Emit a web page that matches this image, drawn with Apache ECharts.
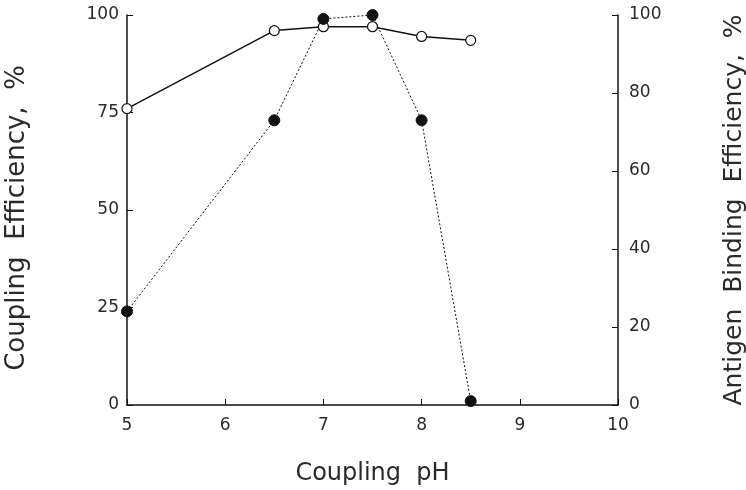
<!DOCTYPE html>
<html lang="en">
<head>
    <meta charset="UTF-8">
    <script src="https://cdn.jsdelivr.net/npm/echarts@6/dist/echarts.min.js"></script>
    <title>Coupling pH</title>
</head>
<body style="margin:0">
<div id="chart" style="width: 746px;height: 490px"></div>
<script type="text/javascript">
    // coupling pH values
    var ph = [5, 6.5, 7, 7.5, 8, 8.5];
    // open circles, solid line (left axis)
    var coupling = [76, 96, 97, 97, 94.5, 93.5];
    // filled circles, dotted line (right axis)
    var binding = [24, 73, 99, 100, 73, 1];

    var ink = '#111';
    var textInk = '#2a2a2a';
    var font = 'DejaVu Sans, sans-serif';

    function pairs(xs, ys) {
        return xs.map(function (x, i) { return [x, ys[i]]; });
    }

    var chart = echarts.init(document.getElementById('chart'));
    chart.setOption({
        animation: false,
        grid: {left: 127, right: 128, top: 15, bottom: 85, containLabel: false, outerBoundsMode: 'none'},
        xAxis: {
            type: 'value', min: 5, max: 10, interval: 1,
            name: 'Coupling  pH', nameLocation: 'middle', nameGap: 57,
            nameTextStyle: {fontSize: 24, color: textInk, fontFamily: font},
            axisLine: {lineStyle: {color: ink, width: 1.5}},
            axisTick: {inside: true, length: 6, lineStyle: {color: ink}},
            axisLabel: {fontSize: 17, color: textInk, fontFamily: font, margin: 12},
            splitLine: {show: false}
        },
        yAxis: [
            {
                type: 'value', min: 0, max: 100, interval: 25, position: 'left',
                name: 'Coupling  Efficiency,  %', nameLocation: 'middle', nameRotate: 90, nameGap: 97,
                nameTextStyle: {fontSize: 26, color: textInk, fontFamily: font, padding: [0, 16, 0, 0]},
                axisLine: {show: true, lineStyle: {color: ink, width: 1.5}},
                axisTick: {show: true, inside: true, length: 6, lineStyle: {color: ink}},
                axisLabel: {fontSize: 17, color: textInk, fontFamily: font, margin: 8},
                splitLine: {show: false}
            },
            {
                type: 'value', min: 0, max: 100, interval: 20, position: 'right',
                name: 'Antigen  Binding  Efficiency,  %', nameLocation: 'middle', nameRotate: 90, nameGap: 104,
                nameTextStyle: {fontSize: 25, color: textInk, fontFamily: font},
                axisLine: {show: true, lineStyle: {color: ink, width: 1.5}},
                axisTick: {show: true, inside: true, length: 6, lineStyle: {color: ink}},
                axisLabel: {fontSize: 17, color: textInk, fontFamily: font, margin: 11},
                splitLine: {show: false}
            }
        ],
        series: [
            {
                type: 'line', yAxisIndex: 0, data: pairs(ph, coupling),
                symbol: 'circle', symbolSize: 10,
                itemStyle: {color: '#fff', borderColor: ink, borderWidth: 1.2},
                lineStyle: {color: ink, width: 1.5}
            },
            {
                type: 'line', yAxisIndex: 1, data: pairs(ph, binding),
                symbol: 'circle', symbolSize: 11,
                itemStyle: {color: ink, borderColor: ink},
                lineStyle: {color: ink, width: 1, type: [2, 2]}
            }
        ]
    });
</script>
</body>
</html>
